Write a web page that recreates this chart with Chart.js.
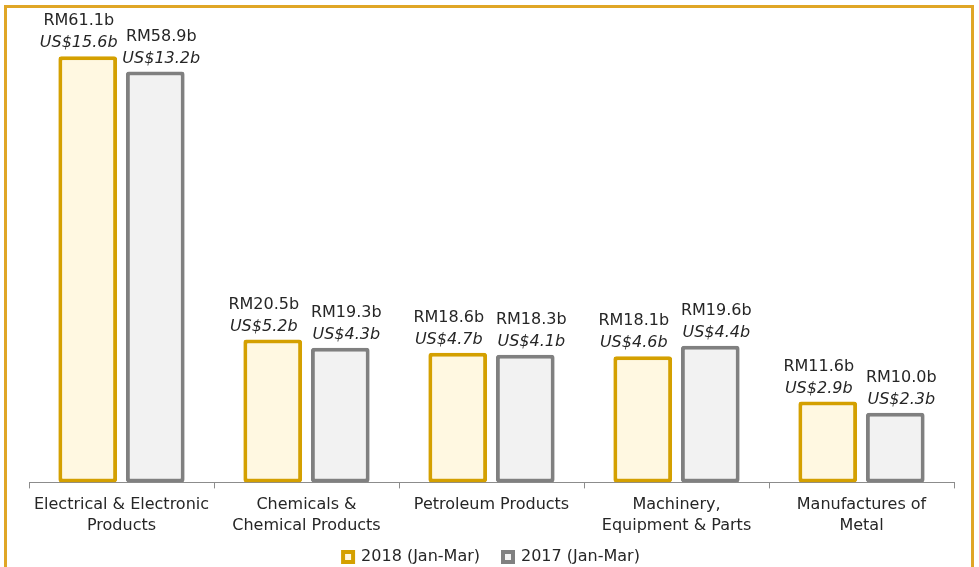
<!DOCTYPE html>
<html>
<head>
<meta charset="utf-8">
<script src="https://cdn.jsdelivr.net/npm/chart.js@4.4.0/dist/chart.umd.min.js"></script>
<style>
  html, body { margin: 0; padding: 0; background: #fff; }
  #wrap { position: relative; width: 979px; height: 567px; overflow: hidden; }
  #frame { position: absolute; left: 4px; top: 5px; width: 970px; height: 600px;
           border: 3px solid #E0A626; box-sizing: border-box; pointer-events: none; }
  canvas { position: absolute; left: 0; top: 0; }
</style>
</head>
<body>
<div id="wrap">
  <canvas id="chart" width="979" height="567"></canvas>
  <div id="frame"></div>
</div>
<script>
var categories = [
  ['Electrical & Electronic', 'Products'],
  ['Chemicals &', 'Chemical Products'],
  'Petroleum Products',
  ['Machinery,', 'Equipment & Parts'],
  ['Manufactures of', 'Metal']
];
var rm2018 = [61.1, 20.5, 18.6, 18.1, 11.6];
var rm2017 = [58.9, 19.3, 18.3, 19.6, 10.0];
var usd2018 = [15.6, 5.2, 4.7, 4.6, 2.9];
var usd2017 = [13.2, 4.3, 4.1, 4.4, 2.3];

var FONT = '"DejaVu Sans", sans-serif';

// labels sit a little outside the bar centre, as in the original
var labelShift = [-9, 6];

var valueLabels = {
  id : 'valueLabels',
  afterDatasetsDraw : function(chart) {
    var ctx = chart.ctx;
    var usd = [usd2018, usd2017];
    ctx.save();
    ctx.textAlign = 'center';
    ctx.textBaseline = 'middle';
    ctx.fillStyle = '#262626';
    chart.data.datasets.forEach(function(ds, i) {
      chart.getDatasetMeta(i).data.forEach(function(bar, j) {
        var x = bar.x + labelShift[i];
        ctx.font = 'italic 16px ' + FONT;
        ctx.fillText('US$' + usd[i][j].toFixed(1) + 'b', x, bar.y - 13);
        ctx.font = '16px ' + FONT;
        ctx.fillText('RM' + ds.data[j].toFixed(1) + 'b', x, bar.y - 35);
      });
    });
    ctx.restore();
  }
};

new Chart(document.getElementById('chart'), {
  type : 'bar',
  data : {
    labels : categories,
    datasets : [{
      label : '2018 (Jan-Mar)',
      data : rm2018,
      backgroundColor : '#FFF8E1',
      borderColor : '#D4A000',
      borderWidth : 4,
      borderRadius : 3,
      borderSkipped : false
    }, {
      label : '2017 (Jan-Mar)',
      data : rm2017,
      backgroundColor : '#F2F2F2',
      borderColor : '#808080',
      borderWidth : 4,
      borderRadius : 3,
      borderSkipped : false
    }]
  },
  options : {
    responsive : false,
    animation : false,
    categoryPercentage : 0.73,
    barPercentage : 0.87,
    layout : { padding : { left : 29, right : 25, top : 8, bottom : -8 } },
    scales : {
      x : {
        grid : { drawOnChartArea : false, drawTicks : true, tickLength : 6, color : '#8c8c8c' },
        border : { color : '#8c8c8c', width : 1 },
        ticks : { color : '#262626', font : { family : FONT, size : 16, lineHeight : 1.3 }, padding : 6, maxRotation : 0, autoSkip : false }
      },
      y : {
        display : false,
        min : 0,
        max : 68
      }
    },
    plugins : {
      legend : {
        position : 'bottom',
        labels : {
          color : '#262626',
          font : { family : FONT, size : 16 },
          boxWidth : 10,
          boxHeight : 10,
          padding : 7,
          generateLabels : function(chart) {
            var items = Chart.defaults.plugins.legend.labels.generateLabels(chart);
            // wider gap between the two legend entries
            items[0].text += '\u2003';
            return items;
          }
        }
      },
      tooltip : { enabled : false }
    }
  },
  plugins : [valueLabels]
});
</script>
</body>
</html>
